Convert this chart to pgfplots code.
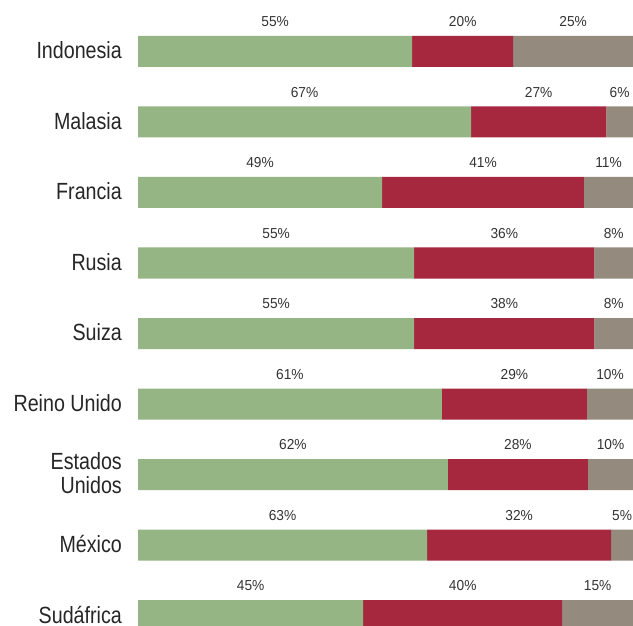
\documentclass[border=0pt]{standalone}
\usepackage{pgfplots}
\pgfplotsset{compat=1.18}
\usepackage{pgfplotstable}
\usepackage{fontspec}
\setmainfont{Liberation Sans}[FakeStretch=0.84]
\newfontfamily\numfont{Liberation Sans}[FakeStretch=0.95]

\definecolor{verde}{HTML}{95B684}
\definecolor{rojo}{HTML}{A6283F}
\definecolor{gris}{HTML}{948A7E}
\definecolor{texto}{HTML}{333333}

% bar lengths (share of the bar) and printed labels
\pgfplotstableread{
g    r    k    gl rl kl
55.4 20.4 24.2 55 20 25
67.3 27.3 5.4  67 27 6
49.3 40.8 9.9  49 41 11
55.8 36.4 7.8  55 36 8
55.8 36.4 7.8  55 38 8
61.4 29.3 9.3  61 29 10
62.6 28.3 9.1  62 28 10
58.4 37.2 4.4  63 32 5
45.5 40.2 14.3 45 40 15
}\datos

\pgfplotsset{base/.style={
    at={(138bp,0)}, anchor=south west,
    width=495bp, height=626bp, scale only axis,
    xmin=0, xmax=100, ymin=-0.7305, ymax=8.149, y dir=reverse,
  },
  etiqueta/.style={draw=none, mark=none, nodes near coords={\pgfplotspointmeta\%},
    point meta=explicit symbolic,
    every node near coord/.style={anchor=center, inner sep=0pt,
      font=\numfont\fontsize{14.5}{16}\selectfont, text=texto}},
}

\begin{document}
\begin{tikzpicture}
\begin{axis}[base,
    xbar stacked, bar width=31bp,
    axis line style={draw=none}, major tick length=0pt,
    xtick=\empty, ytick={0,...,8},
    yticklabels={Indonesia,Malasia,Francia,Rusia,Suiza,Reino Unido,{Estados\\Unidos},México,Sudáfrica},
    yticklabel style={align=right, anchor=east, xshift=-15bp, yshift=1bp, inner sep=1pt,
      font=\fontsize{23.5}{24}\selectfont, text=black!85},
  ]
  \addplot[fill=verde, draw=none] table[x=g, y expr=\coordindex]{\datos};
  \addplot[fill=rojo, draw=none] table[x=r, y expr=\coordindex]{\datos};
  \addplot[fill=gris, draw=none] table[x=k, y expr=\coordindex]{\datos};
\end{axis}
\begin{axis}[base, hide axis]
  \addplot[etiqueta] table[x expr=\thisrow{g}/2, y expr=\coordindex-0.42, meta=gl]{\datos};
  \addplot[etiqueta] table[x expr=\thisrow{g}+\thisrow{r}/2, y expr=\coordindex-0.42, meta=rl]{\datos};
  \addplot[etiqueta] table[x expr=\thisrow{g}+\thisrow{r}+\thisrow{k}/2, y expr=\coordindex-0.42, meta=kl]{\datos};
\end{axis}
\pgfresetboundingbox
\path[use as bounding box] (0,0) rectangle (633bp,626bp);
\end{tikzpicture}
\end{document}
